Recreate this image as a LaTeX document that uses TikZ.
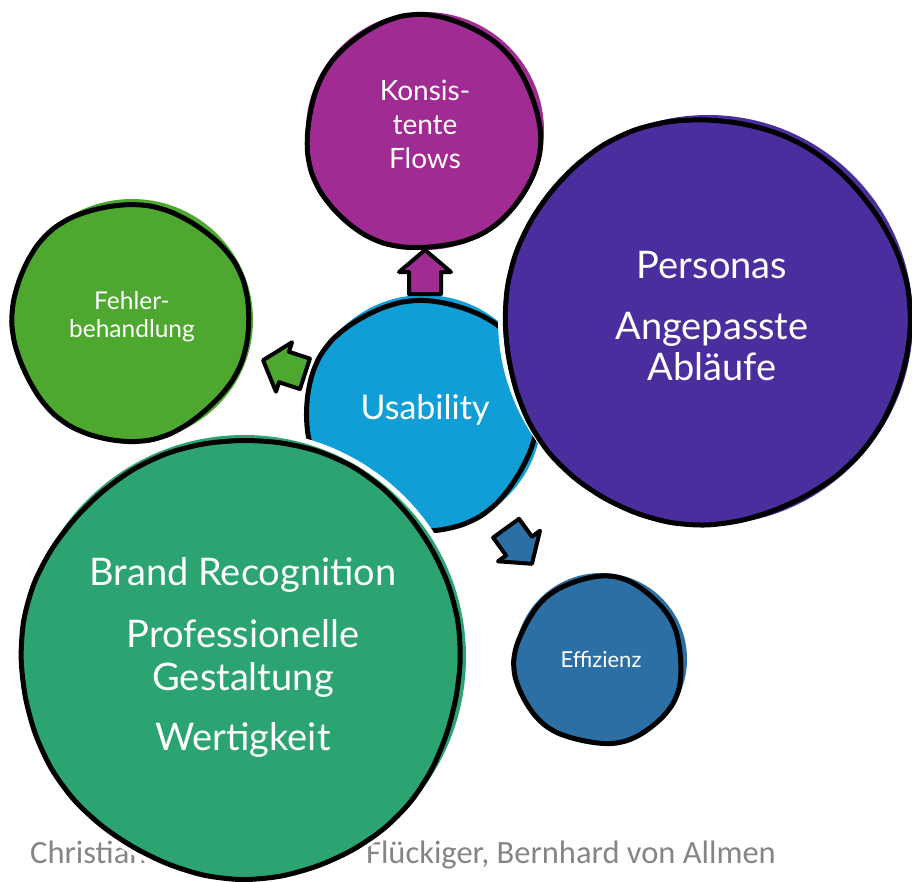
\documentclass[tikz,border=0pt]{standalone}
\usepackage{fontspec}
\setmainfont{Lato}
\newfontfamily\footfont{Carlito}
\definecolor{cmag}{HTML}{A02B93}
\definecolor{cpur}{HTML}{4B2E9E}
\definecolor{cgrn}{HTML}{4EA72E}
\definecolor{cblu}{HTML}{0F9ED5}
\definecolor{cteal}{HTML}{2BA471}
\definecolor{cdblu}{HTML}{2C6FA5}
\definecolor{cfoot}{HTML}{858585}
\newcommand{\blob}[6]{% name, cx, cy, r, colour, phase
  \coordinate (#1) at (#2,#3);
  \fill[#5] (#1) circle[radius=#4pt];
  \draw[outl] plot[smooth cycle, domain=0:350, samples=36, variable=\t]
    ({#2-2+(#4-2.5+1.6*sin(3*\t+#6)+0.8*sin(7*\t+2*#6))*cos(\t)},
     {#3+2+(#4-2.5+1.6*sin(3*\t+#6)+0.8*sin(7*\t+2*#6))*sin(\t)});
}
% block arrow: name, x, y, angle, colour
\newcommand{\barrow}[5]{%
  \coordinate (#1) at (#2,#3);
  \begin{scope}[shift={(#1)}, rotate=#4]
    \filldraw[arrowline, fill=#5] (22,0) -- (0,-26) -- (0,-16) -- (-22,-16)
      -- (-22,16) -- (0,16) -- (0,26) -- cycle;
  \end{scope}
}
\tikzset{
  outl/.style={draw=black, line width=5pt, line join=round},
  lbl/.style={text=white, align=center, inner sep=0pt},
  arrowline/.style={draw=black, line width=4pt, line join=round},
}
\begin{document}
\begin{tikzpicture}[x=1pt,y=-1pt]
\useasboundingbox (0,0) rectangle (912,881);
% footer (partly hidden by the big circle)
\node[anchor=base west, text=cfoot, inner sep=0pt, font=\footfont\fontsize{32.5}{34}\selectfont] (foot1) at (30,863) {Christian};
\node[anchor=base east, text=cfoot, inner sep=0pt, font=\footfont\fontsize{32.5}{34}\selectfont] (foot2) at (776,863) {Flückiger, Bernhard von Allmen};
% circles
\blob{ckon}{425}{131}{119}{cmag}{20}
\blob{cfeh}{132}{320}{121}{cgrn}{140}
\blob{cusa}{424}{413}{118}{cblu}{200}
\fill[white] (708,320) circle[radius=210pt];
\blob{cpers}{708}{320}{205}{cpur}{80}
\fill[white] (244,657) circle[radius=227pt];
\blob{cbrand}{244}{657}{222}{cteal}{260}
\blob{ceff}{601}{659}{86}{cdblu}{320}
% labels
\node[lbl, font=\fontsize{28}{34}\selectfont] (tkon) at (425,124) {Konsis-\\tente\\Flows};
\node[lbl, font=\fontsize{38}{40}\selectfont] (tpers1) at (712,265) {Personas};
\node[lbl, font=\fontsize{38}{41}\selectfont] (tpers2) at (712,347) {Angepasste\\Abläufe};
\node[lbl, font=\fontsize{24.5}{28}\selectfont] (tfeh) at (132,317) {Fehler-\\behandlung};
\node[lbl, font=\fontsize{34}{36}\selectfont] (tusa) at (425,410) {Usability};
\node[lbl, font=\fontsize{38}{40}\selectfont] (tb1) at (243,575) {Brand Recognition};
\node[lbl, font=\fontsize{38}{43}\selectfont] (tb2) at (243,658) {Professionelle\\Gestaltung};
\node[lbl, font=\fontsize{38}{40}\selectfont] (tb3) at (243,740) {Wertigkeit};
\node[lbl, font=\fontsize{22}{24}\selectfont] (teff) at (601,659) {Effizienz};
% block arrows
\barrow{aup}{425}{272}{90}{cmag}
\barrow{aleft}{284}{367}{162}{cgrn}
\barrow{adown}{519}{546}{-54}{cdblu}
\end{tikzpicture}
\end{document}
